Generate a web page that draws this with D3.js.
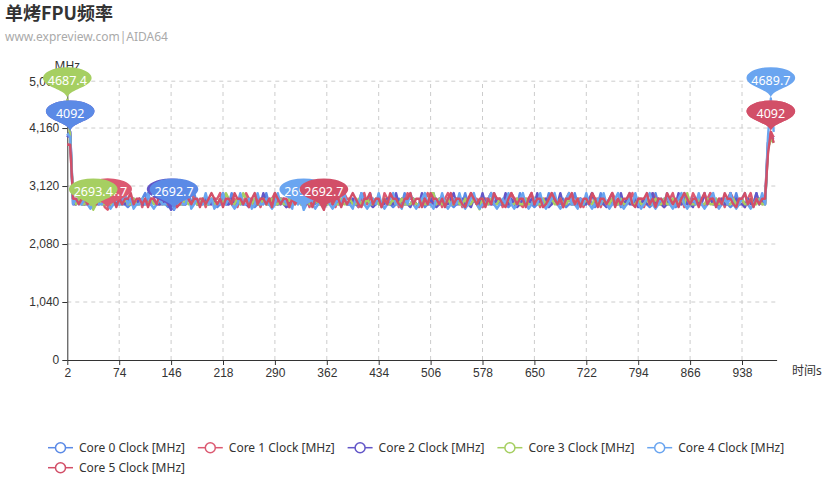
<!DOCTYPE html>
<html><head><meta charset="utf-8">
<script src="https://cdn.jsdelivr.net/npm/d3@7/dist/d3.min.js"></script>
<style>
body{margin:0;background:#fff}
svg{display:block;font-family:"Noto Sans","Noto Sans CJK SC",sans-serif}
</style>
</head><body>
<svg id="chart" width="837" height="480"></svg>
<script>
const titleText = "单烤FPU频率";
const subtitleText = "www.expreview.com|AIDA64";
const seriesNames = ["Core 0 Clock [MHz]","Core 1 Clock [MHz]","Core 2 Clock [MHz]","Core 3 Clock [MHz]","Core 4 Clock [MHz]","Core 5 Clock [MHz]"];
const seriesColors = ["#5b8ae6","#dc5a72","#6256c8","#a6cf62","#6aa5f0","#d24f68"];
const xTickValues = [2,74,146,218,290,362,434,506,578,650,722,794,866,938];
const yTickValues = [0,1040,2080,3120,4160,5000];
const times = d3.range(2, 983, 4); // sample times (s)

const core0 = [
4021,4092,2893,2793,2893,2793,2793,2893,2793,2743,
2793,2893,2793,2793,2993,2793,2893,2793,2793,2893,
2793,2743,2793,2893,2793,2793,2893,2993,2793,2793,
2893,2793,2793,2893,2793,2743,2793,2692.7,2793,2893,
2793,2793,2893,2793,2993,2793,2793,2893,2793,2793,
2893,2793,2743,2793,2893,2793,2793,2993,2793,2893,
2793,2793,2893,2793,2793,2743,2793,2893,2793,2993,
2793,2793,2893,2793,2793,2893,2793,2743,2793,2893,
2793,2993,2793,2793,2893,2793,2793,2893,2793,2743,
2793,2893,2793,2793,2993,2793,2893,2793,2793,2893,
2793,2743,2793,2893,2793,2993,2793,2893,2793,2793,
2893,2793,2793,2743,2793,2893,2793,2993,2793,2793,
2893,2793,2793,2893,2743,2793,2793,2993,2793,2893,
2793,2793,2893,2793,2743,2793,2893,2793,2993,2793,
2793,2893,2793,2793,2743,2893,2793,2793,2993,2793,
2893,2793,2793,2743,2793,2893,2793,2993,2793,2793,
2893,2793,2743,2793,2893,2793,2793,2993,2793,2893,
2793,2793,2893,2743,2793,2793,2993,2793,2893,2793,
2793,2893,2793,2743,2793,2993,2793,2793,2893,2793,
2793,2893,2743,2793,2793,2993,2793,2893,2793,2793,
2893,2793,2743,2793,2993,2793,2793,2893,2793,2793,
2893,2743,2793,2793,2993,2793,2893,2793,2793,2893,
2793,2743,2793,2993,2793,2893,2793,2793,2893,2793,
2743,2793,2993,2793,2893,2793,2793,2893,2793,2993,
2793,2893,2793,3893,4050,3993];

const core1 = [
3860,3860,2893,2793,2893,2893,2793,2893,2793,2893,
2893,2793,2893,2743,2694.7,2793,2893,2893,2793,2993,
2893,2793,2893,2893,2793,2893,2743,2893,2793,2893,
2893,2993,2793,2893,2893,2793,2893,2793,2743,2893,
2893,2793,2893,2993,2893,2793,2893,2893,2743,2893,
2793,2893,2893,2993,2793,2893,2793,2893,2893,2743,
2893,2793,2993,2893,2893,2793,2893,2743,2893,2793,
2893,2893,2993,2793,2893,2893,2743,2893,2793,2893,
2993,2893,2793,2893,2743,2893,2893,2793,2993,2893,
2793,2893,2893,2743,2893,2793,2993,2893,2893,2793,
2893,2743,2893,2993,2793,2893,2893,2793,2893,2743,
2993,2893,2793,2893,2893,2743,2893,2793,2993,2893,
2893,2793,2743,2893,2893,2993,2793,2893,2793,2893,
2743,2893,2993,2893,2793,2893,2893,2743,2893,2793,
2993,2893,2893,2793,2743,2893,2893,2993,2793,2893,
2893,2743,2893,2793,2993,2893,2893,2793,2743,2893,
2893,2993,2793,2893,2743,2893,2893,2793,2993,2893,
2793,2893,2743,2893,2993,2893,2793,2893,2893,2743,
2893,2793,2993,2893,2893,2743,2893,2793,2893,2993,
2893,2793,2893,2743,2893,2893,2993,2793,2893,2893,
2743,2893,2793,2993,2893,2893,2793,2743,2893,2893,
2993,2793,2893,2893,2743,2893,2793,2993,2893,2893,
2793,2743,2893,2993,2893,2793,2893,2893,2743,2893,
2993,2893,2793,2893,2893,2743,2893,2993,2793,2893,
2893,2793,2893,3893,4092,3993];

const core2 = [
3993,4092,2793,2793,2893,2793,2793,2793,2893,2793,
2793,2793,2893,2793,2793,2993,2793,2793,2893,2793,
2793,2893,2793,2793,2793,2893,2793,2793,2993,2793,
2893,2793,2793,2793,2893,2793,2693.1,2793,2893,2793,
2793,2793,2993,2793,2893,2793,2793,2793,2893,2793,
2793,2893,2793,2793,2993,2793,2793,2893,2793,2793,
2893,2793,2793,2743,2793,2893,2793,2793,2993,2793,
2793,2893,2793,2793,2893,2793,2743,2793,2893,2793,
2993,2793,2793,2893,2793,2793,2893,2793,2793,2743,
2793,2893,2793,2993,2793,2793,2893,2793,2793,2893,
2793,2793,2993,2793,2893,2793,2743,2793,2893,2793,
2793,2893,2793,2793,2993,2793,2893,2793,2793,2743,
2893,2793,2793,2993,2793,2793,2893,2793,2743,2793,
2893,2793,2793,2893,2993,2793,2793,2893,2793,2793,
2743,2893,2793,2793,2993,2793,2893,2793,2793,2893,
2793,2793,2993,2793,2893,2793,2743,2793,2893,2793,
2793,2893,2793,2993,2793,2793,2893,2743,2793,2893,
2793,2993,2793,2793,2893,2793,2793,2743,2893,2793,
2793,2893,2993,2793,2793,2893,2793,2743,2793,2893,
2793,2793,2993,2793,2893,2793,2793,2893,2743,2793,
2893,2793,2793,2993,2793,2893,2793,2743,2793,2893,
2793,2793,2993,2793,2893,2793,2793,2743,2893,2793,
2793,2993,2793,2893,2793,2793,2743,2893,2793,2793,
2993,2793,2893,2793,2793,2743,2893,2793,2793,2993,
2793,2893,2793,3793,4000,3960];

const core3 = [
4687.4,3990,2893,2793,2893,2793,2793,2893,2793,2693.4,
2793,2893,2793,2793,2893,2793,2793,2893,2793,2793,
2893,2793,2793,2893,2793,2793,2893,2793,2793,2893,
2793,2793,2893,2793,2793,2893,2793,2793,2893,2793,
2793,2893,2793,2793,2893,2793,2793,2893,2793,2793,
2893,2793,2793,2893,2793,2993,2893,2793,2793,2893,
2793,2993,2893,2793,2793,2893,2793,2793,2893,2793,
2793,2893,2793,2793,2893,2793,2793,2893,2793,2793,
2893,2793,2793,2893,2793,2793,2893,2793,2793,2893,
2793,2793,2893,2793,2793,2893,2793,2793,2893,2793,
2793,2893,2793,2793,2893,2793,2793,2893,2793,2793,
2893,2793,2793,2893,2793,2793,2893,2793,2793,2793,
2893,2793,2793,2893,2793,2793,2993,2993,2793,2893,
2793,2793,2893,2793,2793,2893,2793,2793,2893,2793,
2793,2893,2793,2703,2893,2793,2793,2893,2793,2793,
2893,2793,2793,2893,2793,2793,2893,2793,2793,2893,
2793,2793,2893,2793,2793,2893,2793,2793,2893,2793,
2793,2893,2793,2793,2893,2793,2793,2893,2793,2793,
2893,2793,2793,2893,2793,2793,2893,2793,2793,2893,
2793,2793,2893,2793,2793,2893,2793,2793,2893,2793,
2793,2893,2793,2793,2893,2793,2793,2893,2793,2793,
2893,2793,2793,2893,2793,2993,2793,2793,2793,2893,
2793,2793,2893,2793,2793,2893,2793,2793,2893,2793,
2793,2893,2793,2793,2893,2793,2793,2893,2793,2793,
2893,2793,2793,3800,3950,3900];

const core4 = [
4060,4000,2793,2893,2793,2793,2893,2793,2713,2793,
2893,2793,2793,2993,2793,2713,2793,2893,2793,2793,
2993,2793,2893,2713,2793,2793,2893,2793,2993,2793,
2713,2793,2893,2793,2793,2993,2793,2713,2793,2893,
2793,2793,2993,2713,2793,2893,2793,2793,2993,2793,
2893,2713,2793,2793,2993,2793,2893,2793,2713,2793,
2993,2793,2793,2893,2713,2793,2993,2793,2793,2893,
2793,2713,2793,2993,2793,2893,2793,2793,2713,2993,
2793,2893,2692.7,2793,2993,2793,2713,2793,2893,2793,
2993,2793,2713,2793,2893,2793,2993,2793,2793,2713,
2893,2793,2993,2793,2713,2793,2893,2793,2993,2793,
2713,2793,2893,2993,2793,2793,2713,2893,2793,2993,
2793,2713,2793,2893,2993,2793,2793,2713,2893,2793,
2993,2793,2713,2793,2893,2793,2993,2793,2713,2793,
2893,2993,2793,2713,2793,2793,2893,2993,2793,2713,
2793,2893,2793,2993,2793,2713,2793,2893,2993,2793,
2713,2793,2893,2793,2993,2793,2713,2793,2893,2993,
2793,2713,2793,2893,2993,2793,2793,2713,2893,2793,
2993,2793,2713,2793,2893,2793,2993,2793,2713,2793,
2893,2993,2793,2713,2793,2893,2793,2993,2793,2713,
2793,2893,2993,2793,2713,2793,2893,2793,2993,2793,
2713,2793,2893,2993,2793,2713,2793,2893,2793,2993,
2793,2713,2793,2893,2993,2793,2713,2793,2893,2793,
2993,2793,2713,2793,2893,2993,2793,2713,2793,2893,
2793,2993,2793,3993,4689.7,4092];

const core5 = [
3860,3860,2893,2893,2793,2893,2893,2793,2893,2893,
2793,2893,2993,2893,2793,2893,2893,2743,2893,2793,
2893,2893,2993,2793,2893,2893,2793,2893,2743,2893,
2893,2793,2993,2893,2893,2793,2893,2893,2743,2793,
2893,2993,2893,2793,2893,2893,2743,2893,2793,2893,
2993,2893,2793,2893,2743,2893,2893,2793,2993,2893,
2893,2793,2893,2743,2893,2993,2793,2893,2893,2793,
2893,2743,2993,2893,2793,2893,2893,2743,2893,2793,
2893,2993,2893,2793,2893,2743,2893,2893,2793,2692.7,
2893,2993,2793,2893,2893,2743,2893,2793,2893,2993,
2893,2793,2743,2893,2893,2993,2793,2893,2893,2743,
2893,2793,2993,2893,2893,2793,2743,2893,2893,2993,
2793,2893,2893,2743,2893,2793,2993,2893,2893,2793,
2893,2743,2893,2993,2793,2893,2893,2793,2743,2893,
2993,2893,2793,2893,2893,2743,2893,2793,2993,2893,
2893,2793,2743,2893,2993,2893,2793,2893,2893,2743,
2893,2993,2793,2893,2893,2743,2793,2893,2993,2893,
2793,2893,2743,2893,2893,2993,2793,2893,2743,2893,
2893,2793,2993,2893,2743,2893,2893,2793,2893,2993,
2743,2893,2793,2893,2893,2993,2793,2743,2893,2893,
2893,2993,2793,2893,2743,2893,2893,2793,2993,2893,
2793,2893,2743,2893,2993,2893,2793,2893,2893,2743,
2893,2993,2793,2893,2893,2743,2893,2793,2993,2893,
2893,2793,2743,2893,2893,2993,2793,2893,2743,2893,
2793,2893,2893,3693,4092,3893];

const seriesValues = [core0, core1, core2, core3, core4, core5];
// order in which the max/min pins are stacked (series index, "max"/"min")
const pinOrder = [[2,"max"],[2,"min"],[1,"max"],[1,"min"],[0,"max"],[0,"min"],[3,"max"],[3,"min"],[4,"max"],[4,"min"],[5,"max"],[5,"min"]];

const svg = d3.select("#chart");
const x = d3.scaleLinear().domain([2, 986]).range([67.3, 776.6]);
const y = d3.scaleLinear().domain([0, 5000]).range([360, 81.2]);

// title
svg.append("text").attr("x", 5).attr("y", 20).attr("font-size", 18).attr("font-weight", "bold").attr("fill", "#333")
  .attr("font-family", "'Noto Sans CJK SC',sans-serif").text(titleText);
svg.append("text").attr("x", 5).attr("y", 41).attr("font-size", 12).attr("fill", "#aaa").text(subtitleText);

// grid
const grid = svg.append("g").attr("stroke", "#ccc").attr("stroke-dasharray", "4,4").attr("fill", "none");
yTickValues.filter(v => v > 0).forEach(v => {
  grid.append("line").attr("x1", x.range()[0]).attr("x2", x.range()[1]).attr("y1", y(v)).attr("y2", y(v));
});
xTickValues.filter(v => v > 2).forEach(v => {
  grid.append("line").attr("x1", x(v)).attr("x2", x(v)).attr("y1", y(0)).attr("y2", y(5000));
});

// axes
const yAxis = svg.append("g").attr("transform", `translate(${x.range()[0]},0)`)
  .call(d3.axisLeft(y).tickValues(yTickValues).tickFormat(d3.format(",")).tickSize(5).tickPadding(3).tickSizeOuter(0));
const xAxis = svg.append("g").attr("transform", `translate(0,${y(0)})`)
  .call(d3.axisBottom(x).tickValues(xTickValues).tickFormat(d3.format("d")).tickSize(5).tickPadding(3).tickSizeOuter(0));
[yAxis, xAxis].forEach(a => {
  a.selectAll("path,line").attr("stroke", "#333");
  a.selectAll("text").attr("fill", "#333").attr("font-size", 12).attr("font-family", null);
});
svg.append("text").attr("x", x.range()[0]).attr("y", 69.5).attr("text-anchor", "middle").attr("font-size", 12).attr("fill", "#333").text("MHz");
svg.append("text").attr("x", 792).attr("y", 374.5).attr("font-size", 12).attr("fill", "#333").text("时间s");

// lines
const line = d3.line().x((d, i) => x(times[i])).y(d => y(d));
seriesValues.forEach((vals, s) => {
  svg.append("path").datum(vals).attr("d", line).attr("fill", "none")
    .attr("stroke", seriesColors[s]).attr("stroke-width", 2.4).attr("stroke-linejoin", "round");
});

// pins (echarts-like)
function pinPath() {
  const w = 30, h = 50, r = w / 2;
  const dy = r * r / (h - r);
  const cy = -h + r + dy;
  const ang = Math.asin(dy / r);
  const dx = Math.cos(ang) * r;
  const tx = Math.sin(ang), ty = Math.cos(ang);
  const c1 = r * 0.6, c2 = r * 0.7;
  const p = d3.path();
  p.moveTo(-dx, cy + dy);
  p.arc(0, cy, r, Math.PI - ang, Math.PI * 2 + ang);
  p.bezierCurveTo(dx - tx * c1, cy + dy + ty * c1, 0, -c2, 0, 0);
  p.bezierCurveTo(0, -c2, -dx + tx * c1, cy + dy + ty * c1, -dx, cy + dy);
  p.closePath();
  return p.toString();
}
const pinD = pinPath();
const pins = svg.append("g");
pinOrder.forEach(([s, kind]) => {
  const vals = seriesValues[s];
  const idx = kind === "max" ? d3.maxIndex(vals) : d3.minIndex(vals);
  const px = x(times[idx]), py = y(vals[idx]);
  const g = pins.append("g").attr("transform", `translate(${px},${py})`);
  g.append("path").attr("d", pinD).attr("transform", "scale(1.62,0.72)").attr("fill", seriesColors[s]);
  g.append("text").attr("x", 0).attr("y", -18).attr("text-anchor", "middle").attr("dominant-baseline", "central")
    .attr("font-size", 12.5).attr("fill", "#fff").text(String(vals[idx]));
});

// legend
const legend = svg.append("g");
seriesNames.forEach((name, i) => {
  const row = i < 5 ? 0 : 1;
  const col = i < 5 ? i : 0;
  const lx = 48 + col * 149.8, ly = 447.7 + row * 20;
  const g = legend.append("g").attr("transform", `translate(${lx},${ly})`);
  g.append("line").attr("x1", 0).attr("x2", 25).attr("y1", 0).attr("y2", 0).attr("stroke", seriesColors[i]).attr("stroke-width", 1.5);
  g.append("circle").attr("cx", 12.5).attr("cy", 0).attr("r", 5).attr("fill", "#fff").attr("stroke", seriesColors[i]).attr("stroke-width", 1.5);
  g.append("text").attr("x", 31).attr("y", 0).attr("dominant-baseline", "central").attr("font-size", 12).attr("fill", "#333").text(name);
});
</script>
</body></html>
